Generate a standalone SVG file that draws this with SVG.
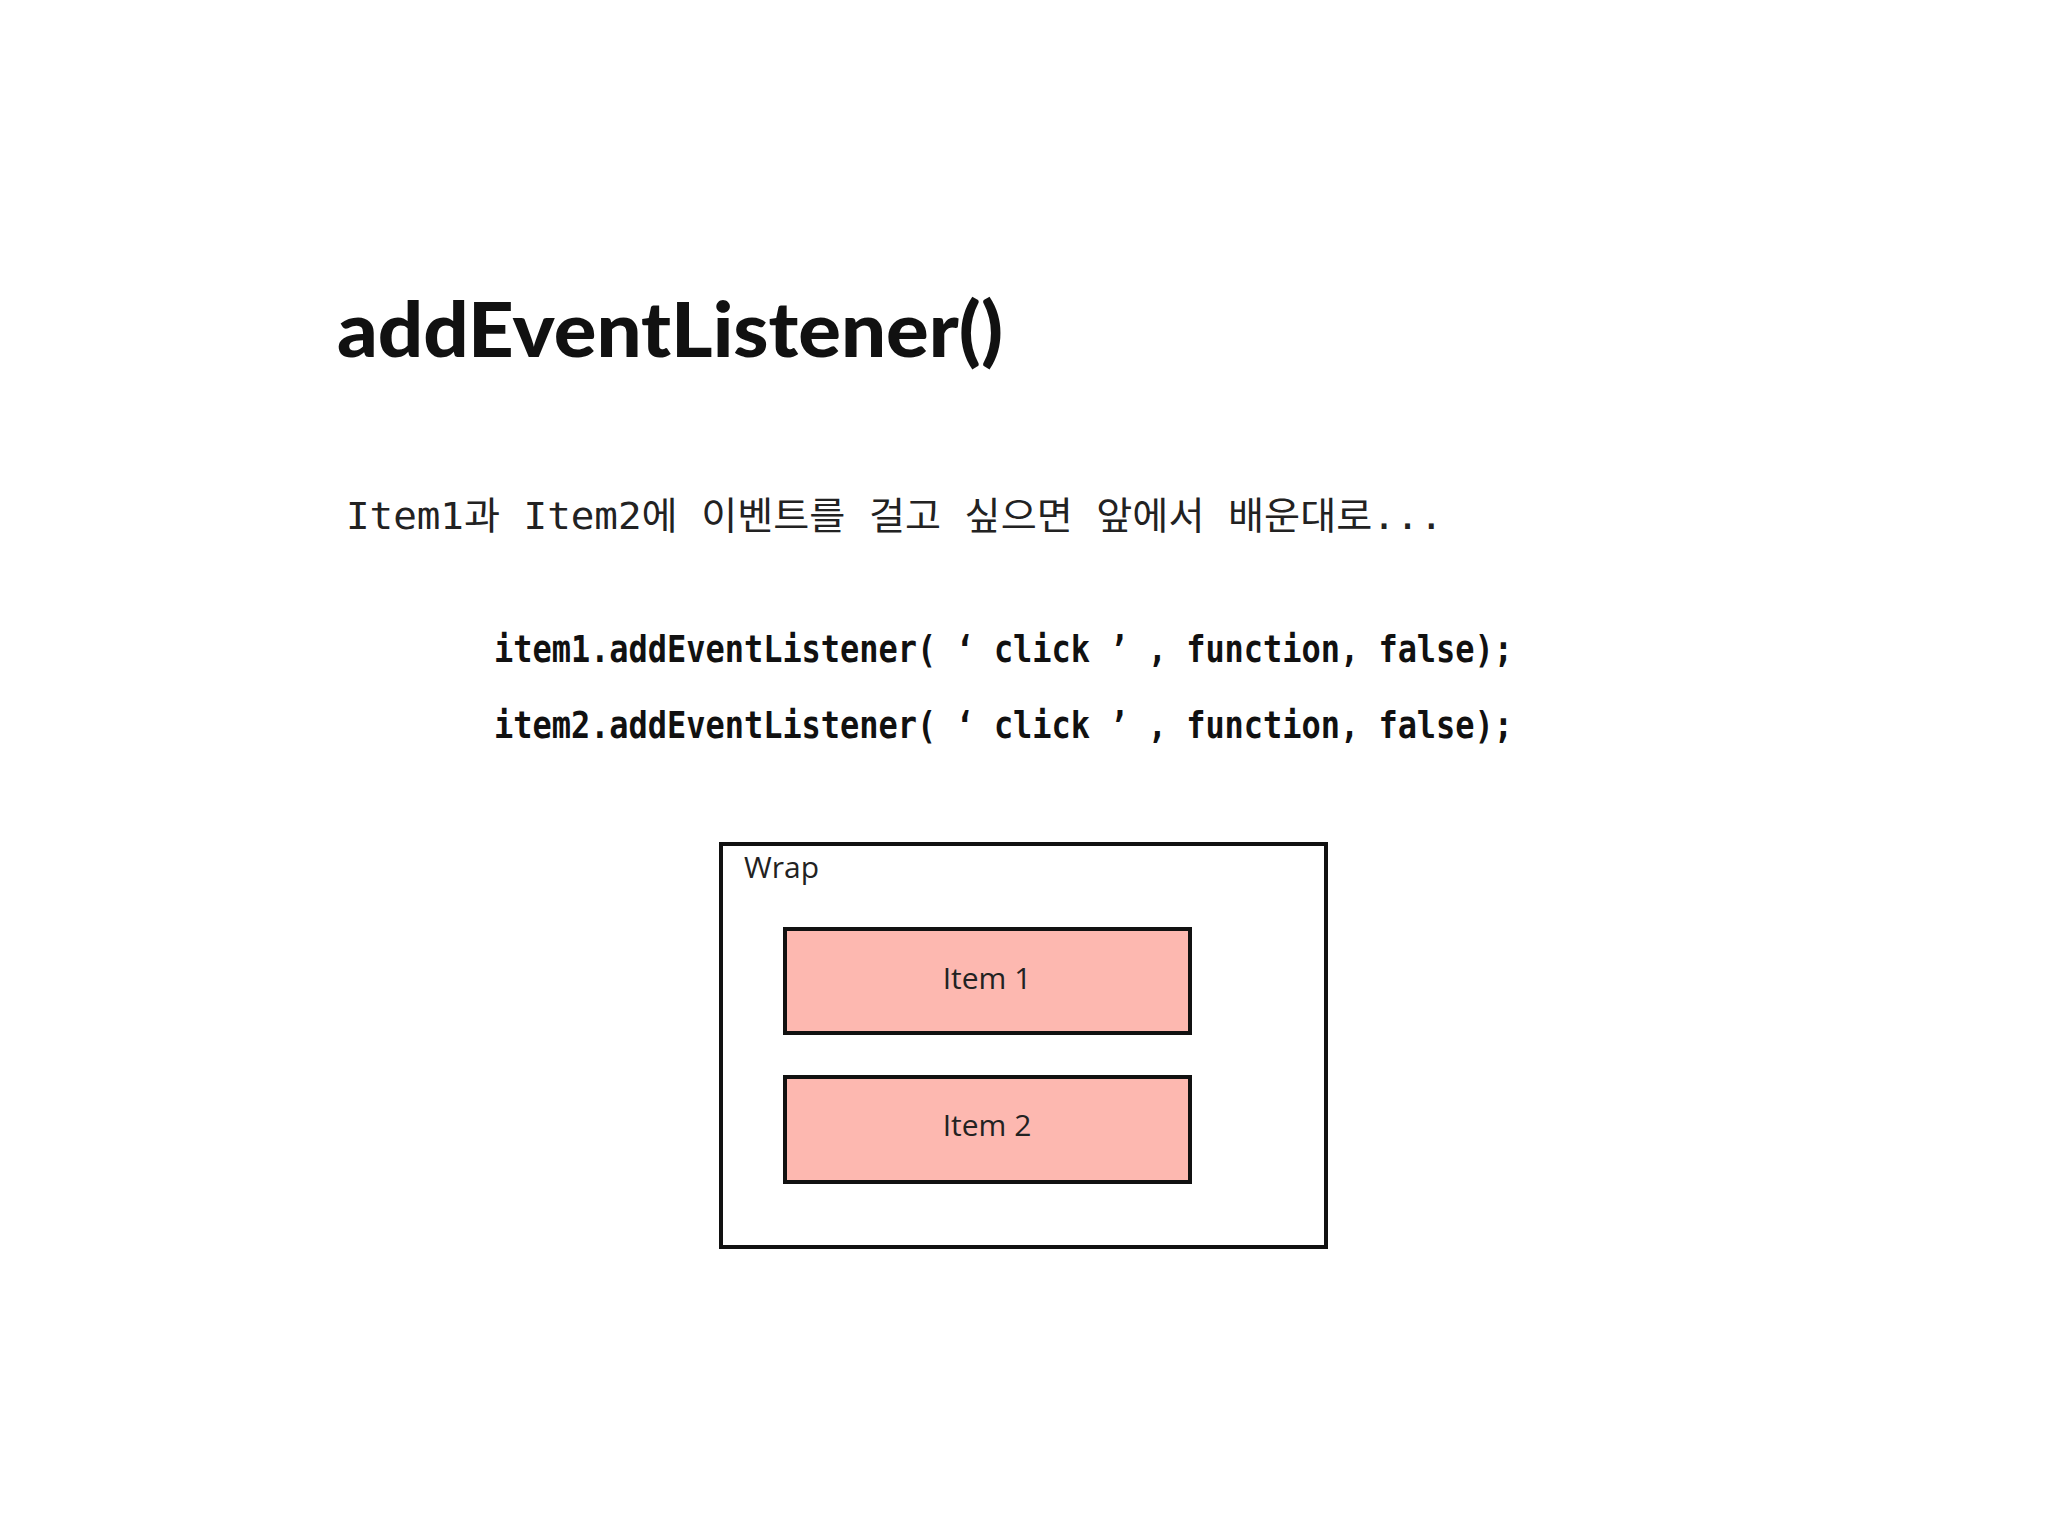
<svg xmlns="http://www.w3.org/2000/svg" width="2048" height="1536" viewBox="0 0 2048 1536">
<style>
.box{stroke:#111;stroke-width:4}
.item{fill:#fdb8b0}
.lbl{font-family:"Open Sans","Noto Sans",sans-serif;font-size:30px;fill:#222}
.code{font-family:"DejaVu Sans Mono",monospace;font-weight:bold;font-size:38px;fill:#111}
</style>
<rect width="2048" height="1536" fill="#fff"/>
<text x="337" y="357" font-family="Lato,sans-serif" font-weight="900" font-size="76" fill="#111" textLength="666" lengthAdjust="spacingAndGlyphs">addEventListener()</text>
<text x="346" y="529" font-family="'DejaVu Sans Mono','Noto Sans CJK KR',monospace" font-size="38" fill="#222" textLength="1097" lengthAdjust="spacingAndGlyphs">Item1과 Item2에 이벤트를 걸고 싶으면 앞에서 배운대로...</text>
<text class="code" x="494" y="662" textLength="1019" lengthAdjust="spacingAndGlyphs">item1.addEventListener( ‘ click ’ , function, false);</text>
<text class="code" x="494" y="738" textLength="1019" lengthAdjust="spacingAndGlyphs">item2.addEventListener( ‘ click ’ , function, false);</text>
<g id="wrap">
<rect class="box" x="721" y="844" width="605" height="403" fill="#fff"/>
<text class="lbl" x="744" y="878">Wrap</text>
</g>
<g id="item1">
<rect class="box item" x="785" y="929" width="405" height="104"/>
<text class="lbl" x="987" y="989" text-anchor="middle">Item 1</text>
</g>
<g id="item2">
<rect class="box item" x="785" y="1077" width="405" height="105"/>
<text class="lbl" x="987" y="1136" text-anchor="middle">Item 2</text>
</g>
<g id="connectors"/>
</svg>
